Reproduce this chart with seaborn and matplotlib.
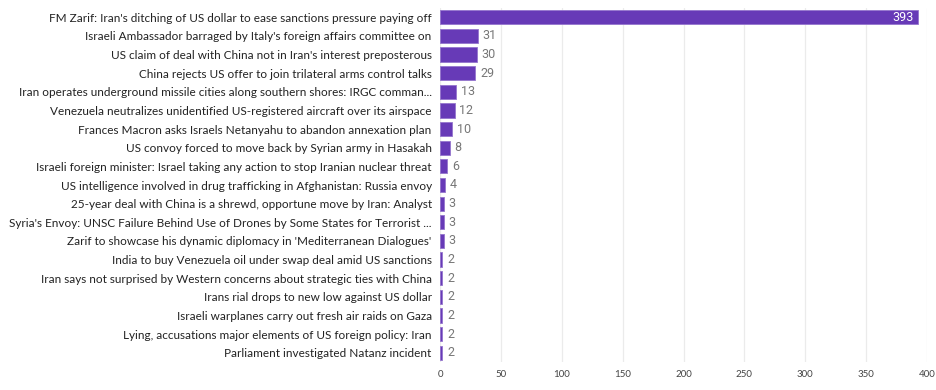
import matplotlib
matplotlib.use('Agg')
import matplotlib.pyplot as plt
import pandas as pd
import seaborn as sns

headlines = [
    "FM Zarif: Iran's ditching of US dollar to ease sanctions pressure paying off",
    "Israeli Ambassador barraged by Italy's foreign affairs committee on",
    "US claim of deal with China not in Iran's interest preposterous",
    "China rejects US offer to join trilateral arms control talks",
    "Iran operates underground missile cities along southern shores: IRGC comman...",
    "Venezuela neutralizes unidentified US-registered aircraft over its airspace",
    "Frances Macron asks Israels Netanyahu to abandon annexation plan",
    "US convoy forced to move back by Syrian army in Hasakah",
    "Israeli foreign minister: Israel taking any action to stop Iranian nuclear threat",
    "US intelligence involved in drug trafficking in Afghanistan: Russia envoy",
    "25-year deal with China is a shrewd, opportune move by Iran: Analyst",
    "Syria's Envoy: UNSC Failure Behind Use of Drones by Some States for Terrorist ...",
    "Zarif to showcase his dynamic diplomacy in 'Mediterranean Dialogues'",
    "India to buy Venezuela oil under swap deal amid US sanctions",
    "Iran says not surprised by Western concerns about strategic ties with China",
    "Irans rial drops to new low against US dollar",
    "Israeli warplanes carry out fresh air raids on Gaza",
    "Lying, accusations major elements of US foreign policy: Iran",
    "Parliament investigated Natanz incident",
]
counts = [393, 31, 30, 29, 13, 12, 10, 8, 6, 4, 3, 3, 3, 2, 2, 2, 2, 2, 2]
x_ticks = [0, 50, 100, 150, 200, 250, 300, 350, 400]

df = pd.DataFrame({'headline': headlines, 'count': counts})

sns.set_style('white')
plt.rcParams['font.family'] = ['Lato', 'DejaVu Sans']

fig = plt.figure(figsize=(9.36, 3.9), dpi=100)
ax = fig.add_axes([440 / 936, 28 / 390, 487 / 936, 354 / 390])

sns.barplot(data=df, x='count', y='headline', orient='h', color='#673ab7',
            width=0.76, edgecolor='#9575cd', linewidth=0.6, ax=ax, saturation=1)

ax.set_xlim(0, 400)
ax.set_xticks(x_ticks)
ax.set_xlabel('')
ax.set_ylabel('')
ax.grid(axis='x', color='#ebebeb', linewidth=0.9)
ax.set_axisbelow(True)
for s in ax.spines.values():
    s.set_visible(False)
ax.tick_params(axis='x', length=0, labelsize=7, colors='#444444', pad=6)
ax.tick_params(axis='y', length=0, labelsize=8.5, colors='#222222', pad=6)

for i, v in enumerate(counts):
    if v > 300:
        ax.text(v - 4, i, str(v), ha='right', va='center', color='white',
                fontsize=9, family='Roboto')
    else:
        ax.text(v + 4, i, str(v), ha='left', va='center', color='#777777',
                fontsize=9, family='Roboto')

fig.savefig('out.png', dpi=100)
